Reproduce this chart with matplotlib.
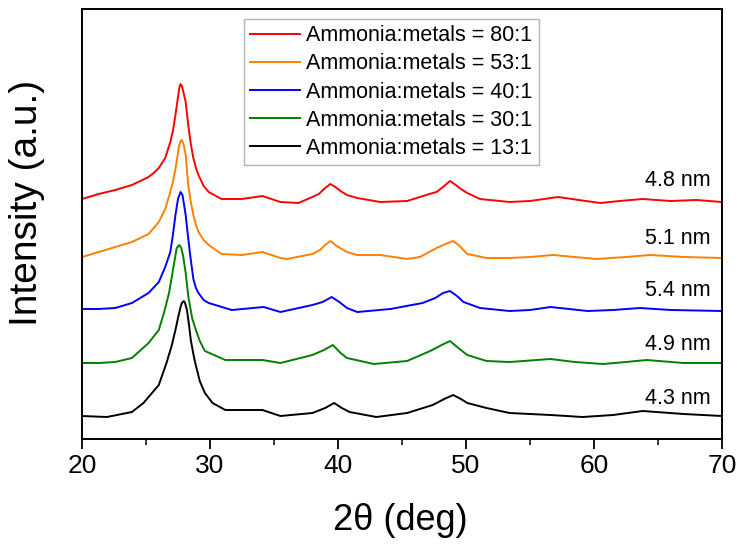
import matplotlib
matplotlib.use("Agg")
import matplotlib.pyplot as plt
from matplotlib.ticker import MultipleLocator

plt.rcParams['font.family'] = ['Liberation Sans', 'DejaVu Sans']

# ------------------------------------------------------------
# XRD patterns (2theta in deg, intensity a.u.)
# ------------------------------------------------------------
tt_80 = [20, 21.3, 22.6, 23.9, 25.2, 25.6, 26.0, 26.5, 26.9, 27.1, 27.3, 27.5, 27.6,
         27.7, 27.8, 27.9, 28.1, 28.3, 28.5, 28.7, 28.9, 29.1, 29.5, 29.9, 30.9, 32.5,
         34.1, 35.5, 36.9, 38.0, 38.5, 39.0, 39.4, 39.8, 40.2, 40.7, 41.5, 43.3, 45.4,
         46.4, 47.4, 47.7, 48.2, 48.75, 49.2, 49.6, 50.1, 51.1, 53.4, 55.0, 57.2, 58.8,
         60.5, 62.0, 63.8, 66.0, 68.0, 70]
int_80 = [0, 5, 9, 14, 22, 26, 31, 41, 57, 68, 84, 102, 111,
          115, 113, 108, 97, 74, 55, 41, 31, 24, 13, 7, 0, 0,
          3, -3, -4, 2, 5, 11, 15, 12, 8, 4, 1, -3, -2,
          2, 6, 7, 12, 18, 14, 10, 6, 0, -3, -2, 2, -1,
          -4, -2, 0, -2, -1, -3]

tt_53 = [20, 21.3, 22.6, 23.9, 25.2, 26.0, 26.5, 26.9, 27.1, 27.3, 27.45, 27.6, 27.7,
         27.8, 27.95, 28.1, 28.3, 28.5, 28.7, 28.9, 29.1, 29.5, 29.9, 30.9, 32.5, 34.1,
         35.5, 36.0, 38.0, 38.6, 39.0, 39.4, 39.9, 40.7, 41.5, 43.3, 45.4, 46.4, 47.7,
         48.4, 49.0, 49.5, 50.1, 51.6, 53.4, 55.0, 56.8, 58.5, 60.2, 62.5, 64.4, 67.0,
         70]
int_53 = [0, 5, 10, 15, 23, 35, 48, 65, 75, 88, 100, 112, 116,
          117, 112, 102, 72, 55, 42, 32, 25, 17, 12, 3, 2, 5,
          -1, -2, 3, 7, 12, 16, 11, 5, 2, 2, -2, 0, 9,
          13, 16, 11, 3, -1, -1, 0, 2, 0, -2, 0, 2, 0,
          -1]

tt_40 = [20, 21.3, 22.6, 23.9, 25.2, 26.0, 26.5, 26.9, 27.1, 27.3, 27.5, 27.7, 27.85,
         27.95, 28.1, 28.25, 28.45, 28.7, 28.9, 29.1, 29.5, 29.9, 31.7, 34.2, 35.5, 38.0,
         38.8, 39.5, 40.1, 40.7, 41.5, 44.1, 46.6, 47.6, 48.2, 48.75, 49.3, 49.8, 51.1,
         53.4, 55.0, 56.6, 59.5, 61.5, 63.6, 66.0, 70]
int_40 = [0, 0, 1, 6, 16, 27, 42, 57, 74, 94, 110, 117, 114,
          106, 94, 76, 54, 30, 21, 16, 9, 6, -1, 2, -3, 4,
          7, 12, 7, 1, -3, 0, 6, 11, 16, 18, 13, 7, 1,
          -2, -1, 2, -2, -1, 1, -1, -2]

tt_30 = [20, 21.3, 22.6, 23.9, 25.2, 26.0, 26.4, 26.8, 27.0, 27.2, 27.4, 27.6, 27.75,
         27.9, 28.1, 28.3, 28.6, 28.9, 29.2, 29.6, 31.2, 34.1, 35.5, 38.0, 38.9, 39.6,
         40.2, 40.7, 42.8, 45.4, 47.2, 48.1, 48.75, 49.4, 50.1, 51.6, 53.4, 56.6, 58.5,
         60.7, 62.5, 64.1, 67.0, 70]
int_30 = [0, 0, 1, 5, 20, 33, 50, 70, 85, 100, 115, 118, 115,
          107, 90, 67, 45, 33, 22, 12, 3, 3, 0, 8, 13, 18,
          10, 5, -1, 2, 12, 18, 22, 15, 8, 2, 1, 4, 1,
          -1, 1, 3, 0, 0]

tt_13 = [20, 21.95, 23.9, 24.8, 26.0, 26.6, 27.0, 27.3, 27.5, 27.7, 27.8, 27.95,
         28.05, 28.2, 28.35, 28.5, 28.7, 28.85, 29.2, 29.6, 30.2, 31.2, 34.1, 35.5, 38.0,
         39.0, 39.7, 40.3, 40.9, 43.0, 45.4, 47.4, 48.3, 49.0, 49.6, 50.1, 51.6, 53.4,
         56.6, 59.1, 61.5, 63.8, 67.0, 70]
int_13 = [0, -1, 4, 13, 31, 53, 70, 86, 98, 109, 113, 115,
          113, 106, 92, 76, 62, 53, 35, 23, 13, 6, 6, 0, 3,
          8, 13, 8, 4, -1, 3, 11, 17, 21, 17, 13, 8, 3,
          1, -1, 1, 5, 2, 0]

labels = ['Ammonia:metals = 80:1', 'Ammonia:metals = 53:1', 'Ammonia:metals = 40:1',
          'Ammonia:metals = 30:1', 'Ammonia:metals = 13:1']
sizes = ['4.8 nm', '5.1 nm', '5.4 nm', '4.9 nm', '4.3 nm']
offsets = [240, 182, 130, 76, 23]
colors = ['#ff0000', '#ff8000', '#0000ff', '#008000', '#000000']

series = [(tt_80, int_80), (tt_53, int_53), (tt_40, int_40),
          (tt_30, int_30), (tt_13, int_13)]

# ------------------------------------------------------------
# Plot
# ------------------------------------------------------------
fig = plt.figure(figsize=(7.4, 5.46), dpi=100)
ax = fig.add_axes([82 / 740, 107 / 546, 640 / 740, 430 / 546])

for (tt, inten), off, c, lab, sz in zip(series, offsets, colors, labels, sizes):
    ax.plot(tt, [v + off for v in inten], color=c, lw=1.4, label=lab)
    ax.text(69.1, off + 18, sz, ha='right', va='center', fontsize=15.5)

ax.set_xlim(20, 70)
ax.set_ylim(0, 430)
ax.xaxis.set_major_locator(MultipleLocator(10))
ax.xaxis.set_minor_locator(MultipleLocator(5))
ax.set_yticks([])
ax.tick_params(axis='x', which='major', direction='out', length=7, width=1.3,
               labelsize=19, pad=4, top=False)
ax.tick_params(axis='x', which='minor', direction='out', length=4, width=1.1, top=False)
for sp in ax.spines.values():
    sp.set_linewidth(1.4)

ax.set_xlabel('2\u03b8 (deg)', fontsize=26)
ax.set_ylabel('Intensity (a.u.)', fontsize=28)
ax.xaxis.set_label_coords(0.498, -0.15)
ax.yaxis.set_label_coords(-0.058, 0.55)

leg = ax.legend(loc='upper left', bbox_to_anchor=(0.253, 0.977), borderaxespad=0,
                fontsize=15.5, frameon=True, fancybox=False, handlelength=2.3,
                handletextpad=0.3, labelspacing=0.33, borderpad=0.3)
leg.get_frame().set_edgecolor('#a0a0a0')
leg.get_frame().set_linewidth(1.0)

plt.savefig('out.png', dpi=100)
plt.close()
